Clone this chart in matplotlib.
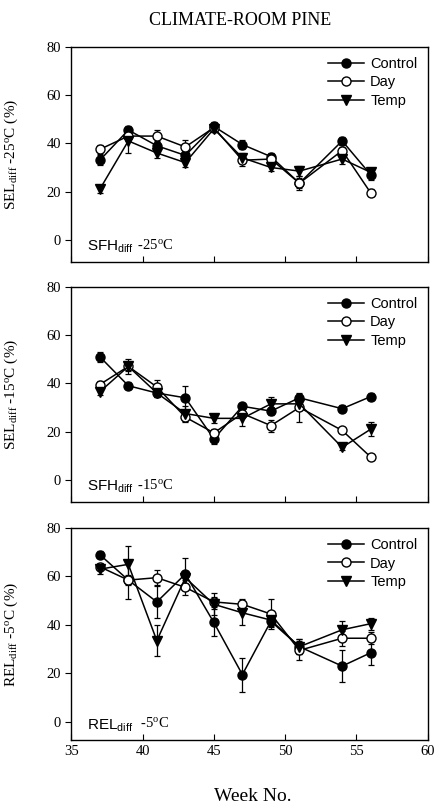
import matplotlib
matplotlib.use('Agg')
import matplotlib.pyplot as plt
import numpy as np

plt.rcParams['font.family'] = ['Liberation Serif', 'DejaVu Serif']
plt.rcParams['mathtext.fontset'] = 'custom'
plt.rcParams['mathtext.rm'] = 'Liberation Serif'
plt.rcParams['mathtext.sf'] = 'Liberation Sans'
plt.rcParams['mathtext.it'] = 'Liberation Serif:italic'

# week numbers shared by all panels
weeks = [37, 39, 41, 43, 45, 47, 49, 51, 54, 56]

# panel 1: SEL diff -25C
sel25_control = [33, 45.5, 39, 35, 47, 39.5, 34.5, 23.5, 41, 27]
sel25_control_err = [2, 1.5, 2, 2, 2, 2, 1.5, 2, 1.5, 2]
sel25_day = [37.5, 43, 43, 38.5, 46.5, 33, 33.5, 23.5, 37, 19.5]
sel25_day_err = [2, 2, 2.5, 3, 2, 2.5, 1.5, 3, 1.5, 1.5]
sel25_temp = [21, 41, 36, 32, 46, 34, 30, 28.5, 33.5, 28]
sel25_temp_err = [1.5, 5, 2, 2, 1.5, 2, 1.5, 2, 2, 1.5]

# panel 2: SEL diff -15C
sel15_control = [51, 39, 36, 34, 17, 30.5, 28.5, 34, 29.5, 34.5]
sel15_control_err = [2, 1.5, 1.5, 5, 2, 1.5, 1.5, 1.5, 1.5, 1.5]
sel15_day = [39.5, 47, 38.5, 26, 19.5, 27.5, 22.5, 30, 20.5, 9.5]
sel15_day_err = [1.5, 2, 3, 2, 1.5, 2, 2.5, 6, 1, 1]
sel15_temp = [36.5, 47, 36, 27.5, 25.5, 25.5, 31.5, 31.5, 13.5, 21]
sel15_temp_err = [1.5, 3, 1.5, 3, 2, 3, 3, 2.5, 1, 3]

# panel 3: REL diff -5C
rel5_control = [69, 58.5, 49.5, 61, 41, 19.5, 41.5, 31, 23, 28.5]
rel5_control_err = [1.5, 8, 6.5, 6.5, 5.5, 7, 2, 3, 6.5, 5]
rel5_day = [64, 58.5, 59.5, 55.5, 49.5, 48.5, 44.5, 29.5, 34.5, 34.5]
rel5_day_err = [1.5, 2, 3, 3, 2, 2, 6, 4, 3, 2.5]
rel5_temp = [63, 65, 33.5, 59.5, 48.5, 45, 42, 31, 38, 40.5]
rel5_temp_err = [2, 7.5, 6.5, 2, 4.5, 5, 3, 3, 3.5, 2.5]

ylabels = ['SEL$_{\\mathrm{diff}}$ -25$^{\\mathrm{o}}$C (%)',
           'SEL$_{\\mathrm{diff}}$ -15$^{\\mathrm{o}}$C (%)',
           'REL$_{\\mathrm{diff}}$ -5$^{\\mathrm{o}}$C (%)']
tags = [('SFH', '-25$^{\\mathrm{o}}$C'),
        ('SFH', '-15$^{\\mathrm{o}}$C'),
        ('REL', ' -5$^{\\mathrm{o}}$C')]

panels = [
    (sel25_control, sel25_control_err, sel25_day, sel25_day_err, sel25_temp, sel25_temp_err),
    (sel15_control, sel15_control_err, sel15_day, sel15_day_err, sel15_temp, sel15_temp_err),
    (rel5_control, rel5_control_err, rel5_day, rel5_day_err, rel5_temp, rel5_temp_err),
]

fig = plt.figure(figsize=(4.35, 8.05), dpi=100)

left = 71.3 / 435
width = 356.4 / 435
rects = [
    (left, 1 - 261.7 / 805, width, 215 / 805, -9),
    (left, 1 - 501.7 / 805, width, 215 / 805, -9),
    (left, 1 - 740 / 805, width, 212 / 805, -7.5),
]

for i, (rect, data) in enumerate(zip(rects, panels)):
    ax = fig.add_axes(rect[:4])
    c, ce, d, de, t, te = data
    styles = [
        ('Control', c, ce, dict(marker='o', mfc='black', mec='black')),
        ('Day', d, de, dict(marker='o', mfc='white', mec='black')),
        ('Temp', t, te, dict(marker='v', mfc='black', mec='black')),
    ]
    for name, vals, errs, st in styles:
        ax.errorbar(weeks, vals, yerr=errs, fmt='none', ecolor='black',
                    elinewidth=0.9, capsize=2.5, capthick=0.9, zorder=2)
        ax.plot(weeks, vals, color='black', lw=1.1, ms=6.5, label=name,
                zorder=3, **st)

    ax.set_xlim(35, 60)
    ax.set_ylim(rect[4], 80)
    ax.set_xticks([35, 40, 45, 50, 55, 60])
    ax.set_yticks([0, 20, 40, 60, 80])
    ax.tick_params(axis='x', direction='in', length=4, labelsize=10.5)
    ax.tick_params(axis='y', direction='out', length=4, labelsize=10.5)
    if i < 2:
        ax.tick_params(axis='x', labelbottom=False)
    for sp in ax.spines.values():
        sp.set_linewidth(1.0)

    ax.set_ylabel(ylabels[i], fontsize=11)
    ax.yaxis.set_label_coords(-0.145, 0.5)

    ax.legend(loc='upper right', frameon=False, handlelength=2.5,
              prop={'family': 'Liberation Sans', 'size': 10.5},
              labelspacing=0.3, borderaxespad=0.3, handletextpad=0.4)

    t1 = ax.text(0.045, 0.03, tags[i][0] + '$_{\\mathsf{diff}}$',
                 transform=ax.transAxes, family='Liberation Sans',
                 fontsize=11, va='bottom', ha='left')
    ax.annotate(' ' + tags[i][1], xy=(1, 0), xycoords=t1, va='bottom',
                ha='left', fontsize=10.5, xytext=(0, 2.5),
                textcoords='offset points')

fig.text(0.552, 0.975, 'CLIMATE-ROOM PINE', ha='center', va='center',
         fontsize=13)
fig.text(0.58, 0.01, 'Week No.', ha='center', va='center', fontsize=14)

fig.savefig('out.png', dpi=100)
